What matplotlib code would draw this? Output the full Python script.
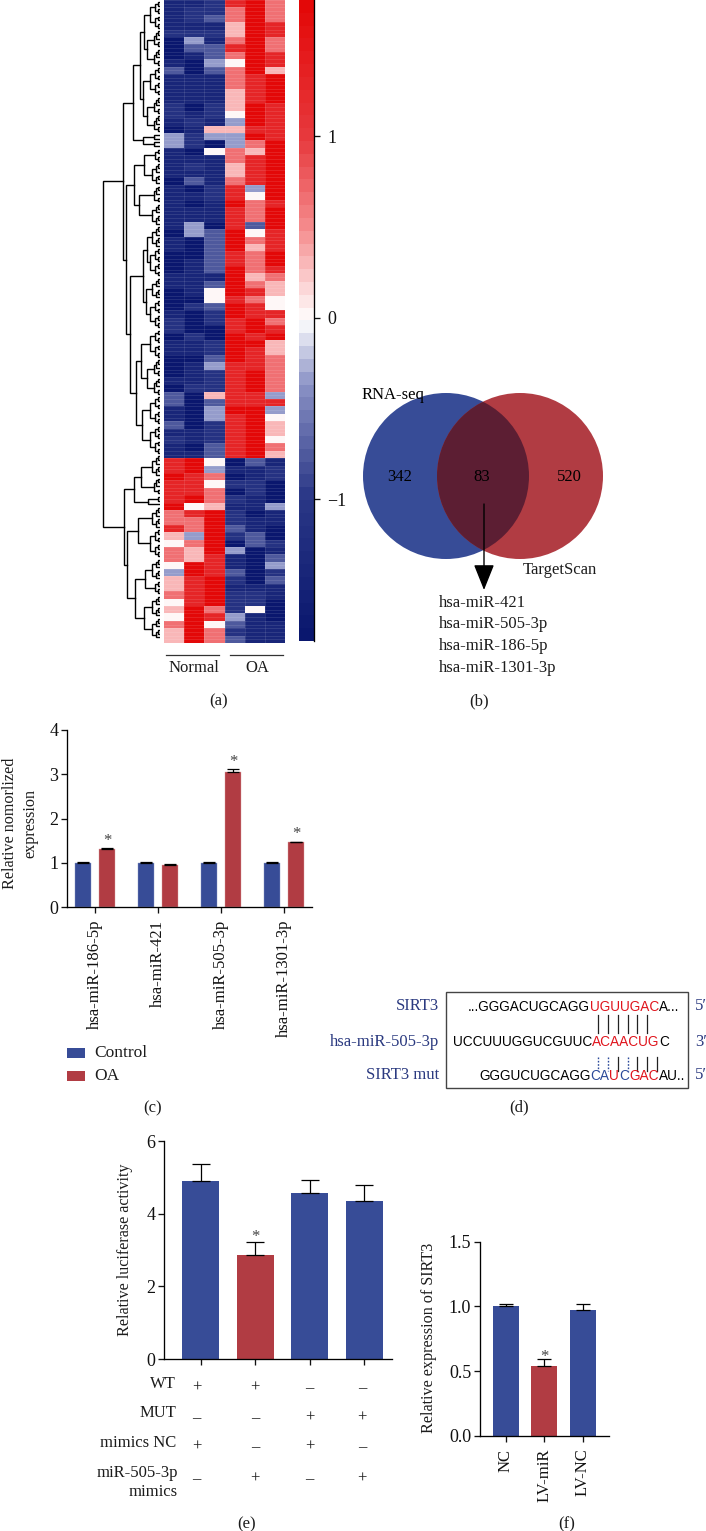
import matplotlib
matplotlib.use("Agg")
import numpy as np
import matplotlib.pyplot as plt
from matplotlib.colors import LinearSegmentedColormap, Normalize
from matplotlib.patches import Circle, Rectangle

plt.rcParams['font.family'] = ['Liberation Serif', 'DejaVu Serif']
plt.rcParams['axes.linewidth'] = 0.95
plt.rcParams['text.color'] = '#1c1c1c'
plt.rcParams['xtick.color'] = '#111111'
plt.rcParams['ytick.color'] = '#111111'

W, H = 706, 1531
BLUE, RED, OVER, NAVY = '#374c97', '#b13c43', '#5c1e33', '#2b3a80'
FS = 12
FS_Y = 11.6

# ---------- data ----------
# heat rows: one digit per sample (Normal x3, OA x3), looked up in heat_levels
heat_levels = [-1.72, -1.38, -1.12, -0.78, -0.32, 0.0, 0.28, 0.68, 1.28, 1.72]
heat_rows = [
 "112897","122797","123797","111698","222698","041797","033897","013798","104598","303796",
 "111789","111789","111689","111689","202698","212598","121498","016688","424498","420479",
 "105769","111789","121689","111689","031789","102849","112859","101978","111879","111879",
 "140839","043958","103978","103968","003879","013879","013978","111967","113976","015986",
 "005875","023985","102988","202897","200898",
 "020989","112996","112986","003987","014887","012897","112897","022897","306884","303888",
 "104994","104895","302896","112896","212895","103897","113896",
 "895031","894112","987012","885220","887020","897210","956114","789201","779211","879310",
 "649230","579032","769401","768103","598104","498302","689203","689111","789221","589220",
 "697250","598410","795311","697211","697311",
]
cb_ticks = [-1, 0, 1]
cb_limits = (-1.78, 1.75)

# dendrogram as nested (height, upper child, lower child); 1 is a single leaf
c2 = (2.5, 1, 1); c3 = (4, c2, 1); c4 = (5, c2, c2); c5 = (6.5, c3, c2)
c6 = (8, c3, c3); c8 = (10, c4, c4); c10 = (13, c5, c5)
A = (27, (20, (16, c8, c10), (17, c8, c10)), (17, (6, 1, 1), (6, 1, 1)))
B1 = (26, (16, c4, c6), (21, c5, c6))
B2 = (30, (17, (13, c6, c8), (14, c6, c8)), (24, (19, c8, c10), (18, c8, c8)))
upper = (37, A, (34.3, B1, B2))
lower = (36, (26, (19, c6, c5), (12, c2, 1)),
          (33, (22, c6, c8), (25, (15, c6, c4), (16, c6, c6))))
tree = (57, upper, lower)

venn_counts = ['342', '83', '520']
venn_targets = ['hsa-miR-421', 'hsa-miR-505-3p', 'hsa-miR-186-5p', 'hsa-miR-1301-3p']

c_labels = ['hsa-miR-186-5p', 'hsa-miR-421', 'hsa-miR-505-3p', 'hsa-miR-1301-3p']
c_control = [1.0, 1.0, 1.0, 1.0]
c_oa = [1.32, 0.95, 3.06, 1.46]
c_control_err = [0.015, 0.02, 0.015, 0.02]
c_oa_err = [0.02, 0.015, 0.06, 0.02]
c_star = [True, False, True, True]

e_values = [4.9, 2.87, 4.58, 4.34]
e_err = [0.47, 0.36, 0.34, 0.45]
e_colors = [BLUE, RED, BLUE, BLUE]
e_rows = ['WT', 'MUT', 'mimics NC', 'miR-505-3p\nmimics']
e_signs = [['+', '+', '–', '–'], ['–', '–', '+', '+'], ['+', '–', '+', '–'], ['–', '+', '–', '+']]

f_labels = ['NC', 'LV-miR', 'LV-NC']
f_values = [1.0, 0.54, 0.97]
f_err = [0.015, 0.05, 0.045]
f_colors = [BLUE, RED, BLUE]

# ---------- helpers ----------
fig = plt.figure(figsize=(W / 100, H / 100), dpi=100, facecolor='white')

def ax_px(x0, y0, x1, y1, **kw):
    return fig.add_axes([x0 / W, 1 - y1 / H, (x1 - x0) / W, (y1 - y0) / H], **kw)

page = ax_px(0, 0, W, H)
page.set_xlim(0, W); page.set_ylim(H, 0); page.axis('off'); page.set_zorder(5)
page.patch.set_alpha(0)

def clean(ax):
    ax.spines[['top', 'right']].set_visible(False)
    ax.tick_params(length=4.3, width=0.95, labelsize=13, pad=2)

def cap(txt, x, y):
    page.text(x, y, txt, ha='center', va='center', fontsize=FS)

# ---------- (a) heatmap ----------
hm_x0, hm_x1, hm_y1 = 164, 285, 643
data = np.array([[heat_levels[int(ch)] for ch in r] for r in heat_rows])
cmap = LinearSegmentedColormap.from_list(
    'bwr2', [(0, '#0a176e'), (0.22, '#2a3786'), (0.4, '#8c93c6'), (0.5, '#ffffff'),
             (0.646, '#f58c8e'), (0.787, '#e73a3e'), (1, '#e30808')], N=50)
norm = Normalize(*cb_limits)
ax = ax_px(hm_x0, 0, hm_x1, hm_y1)
mesh = ax.pcolormesh(data, cmap=cmap, norm=norm)
ax.set_ylim(len(heat_rows), 0); ax.set_xlim(0, 6); ax.axis('off')
ax.hlines(np.arange(0, len(heat_rows) + 0.5, 0.5), 0, 6, color='white', lw=0.4, alpha=0.18)
ax.vlines(np.arange(1, 6), 0, len(heat_rows), color='white', lw=0.4, alpha=0.18)

dax = ax_px(100, 0, 160, hm_y1)
n_leaves = 2 * len(heat_rows)
dax.set_xlim(60, 0); dax.set_ylim(n_leaves, 0); dax.axis('off')
counter = [0]
def draw(node):
    if node == 1:
        counter[0] += 1
        return 0, counter[0] - 0.5
    h, a, b = node
    ha, ya = draw(a)
    hb, yb = draw(b)
    dax.plot([ha, h, h, hb], [ya, ya, yb, yb], color='black', lw=1.0, solid_joinstyle='miter')
    return h, (ya + yb) / 2
draw(tree)

cax = ax_px(299, 0, 314, 641)
cb = fig.colorbar(mesh, cax=cax, ticks=cb_ticks, drawedges=False)
cb.outline.set_visible(False)
cax.spines['right'].set_visible(True)
cax.spines['right'].set_color('black')
cax.tick_params(length=4.3, width=0.95, labelsize=13, pad=5)
cax.set_yticklabels(['−1', '0', '1'])

page.plot([166, 219], [654.5, 654.5], color='#333333', lw=0.9)
page.plot([230, 283], [654.5, 654.5], color='#333333', lw=0.9)
page.text(194, 668, 'Normal', ha='center', va='center', fontsize=FS)
page.text(257, 668, 'OA', ha='center', va='center', fontsize=FS)
cap('(a)', 219, 701)

# ---------- (b) venn ----------
blue_c = Circle((446, 476), 83, fc=BLUE, ec='none')
red_c = Circle((520, 476), 83, fc=RED, ec='none')
over_c = Circle((520, 476), 83, fc=OVER, ec='none')
for p in (blue_c, red_c, over_c):
    page.add_patch(p)
over_c.set_clip_path(Circle((446, 476), 83, transform=page.transData))
for txt, x in zip(venn_counts, (400, 482, 569)):
    page.text(x, 477, txt, ha='center', va='center', fontsize=FS, color='black')
page.text(362, 395, 'RNA-seq', ha='left', va='center', fontsize=FS, color='black')
page.text(523, 570, 'TargetScan', ha='left', va='center', fontsize=FS)
page.annotate('', xy=(484, 590), xytext=(484, 504),
              arrowprops=dict(arrowstyle='-|>,head_length=1.0,head_width=0.4',
                              color='black', lw=1.0, mutation_scale=16, shrinkA=0, shrinkB=0))
for txt, y in zip(venn_targets, (603, 624, 646, 668)):
    page.text(439, y, txt, ha='left', va='center', fontsize=FS)
cap('(b)', 479, 701)

# ---------- (c) bars ----------
ax = ax_px(67, 730, 312, 907)
clean(ax)
xs = np.arange(len(c_labels))
off, bw = 0.19, 0.255
ek = dict(capsize=4, elinewidth=0.9, capthick=0.9, ecolor='black')
ax.bar(xs - off, c_control, bw, color=BLUE, edgecolor='#8b97c4', lw=0.3,
       yerr=[[0] * 4, c_control_err], error_kw=ek)
ax.bar(xs + off, c_oa, bw, color=RED, edgecolor='#dba0a3', lw=0.3,
       yerr=[[0] * 4, c_oa_err], error_kw=ek)
for x, v, e, s in zip(xs, c_oa, c_oa_err, c_star):
    if s:
        ax.text(x + off, v + e - 0.02, '*', ha='center', va='bottom', fontsize=FS, color='#444444')
ax.set_xlim(-0.444, 3.444); ax.set_ylim(0, 4)
ax.set_yticks([0, 1, 2, 3, 4])
ax.set_xticks(xs); ax.set_xticklabels(c_labels, rotation=90, fontsize=FS)
ax.tick_params(axis='x', pad=5)
page.text(20, 823, 'Relative nomorlized\nexpression', rotation=90, ha='center', va='center',
          fontsize=FS_Y, linespacing=1.35, multialignment='center')
for y, col, name in zip((1053, 1076), (BLUE, RED), ('Control', 'OA')):
    page.add_patch(Rectangle((67, y - 5), 18, 10, fc=col, ec='none'))
    page.text(94, y, name, ha='left', va='center', fontsize=FS + 0.5)
cap('(c)', 153, 1108)

# ---------- (d) alignment ----------
page.add_patch(Rectangle((446, 992), 242, 96, fc='white', ec='#444444', lw=1.0))
K, R_, B_ = 'black', '#e0141c', '#2b4a9a'
seqs = [
    (468, 1007, [('...GGGACUGCAGG', K), ('UGUUGAC', R_), ('A...', K)]),
    (453, 1042, [('UCCUUUGGUCGUUC', K), ('ACAACUG', R_), ('C', K)]),
    (479, 1076, [('GGGUCUGCAGG', K), ('CA', B_), ('U', R_), ('C', B_), ('GAC', R_), ('AU..', K)]),
]
rend = fig.canvas.get_renderer()
for x, y, segs in seqs:
    for s, col in segs:
        t = page.text(x, y, s, ha='left', va='center', fontsize=9.8, color=col,
                      family='Liberation Sans')
        x = page.transData.inverted().transform(t.get_window_extent(rend))[1, 0]
for x in (597.7, 607.7, 617.5, 627.5, 637, 646.7):
    page.plot([x, x], [1015, 1033], color='#222222', lw=0.9)
for x, dotted in zip((597.7, 607.7, 617.5, 627.5, 637, 646.7, 656.7),
                     (True, True, False, True, False, False, False)):
    if dotted:
        page.plot([x, x], [1057, 1071], color=B_, lw=1.0, ls=(0, (1.2, 1.2)))
    else:
        page.plot([x, x], [1057, 1071], color='#222222', lw=0.9)
for txt, y, end in (('SIRT3', 1006, '5′'), ('hsa-miR-505-3p', 1042, '3′'), ('SIRT3 mut', 1075, '5′')):
    page.text(439, y, txt, ha='right', va='center', fontsize=FS, color=NAVY)
    page.text(695, y, end, ha='left', va='center', fontsize=FS, color=NAVY)
cap('(d)', 519, 1107)

# ---------- (e) bars ----------
ax = ax_px(164, 1141, 392, 1359)
clean(ax)
xs = np.arange(4)
ax.bar(xs, e_values, 0.673, color=e_colors,
       yerr=[[0] * 4, e_err], error_kw=dict(capsize=6.8, elinewidth=0.9, capthick=0.9, ecolor='black'))
ax.text(1, e_values[1] + e_err[1] - 0.1, '*', ha='center', va='bottom', fontsize=FS, color='#444444')
ax.set_xlim(-0.673, 3.51); ax.set_ylim(0, 6)
ax.set_yticks([0, 2, 4, 6]); ax.set_xticks(xs); ax.set_xticklabels([])
page.text(125, 1250, 'Relative luciferase activity', rotation=90, ha='center', va='center', fontsize=FS_Y)
for signs, y in zip(e_signs, (1388, 1418, 1447, 1479)):
    for s, x in zip(signs, (196.7, 255, 309.7, 362)):
        page.text(x, y, s, ha='center', va='center', fontsize=FS)
for txt, y in zip(e_rows[:3], (1384, 1413, 1443)):
    page.text(176, y, txt, ha='right', va='center', fontsize=FS)
page.text(178, 1482.5, e_rows[3], ha='right', va='center', fontsize=FS, linespacing=1.25)
cap('(e)', 247, 1524)

# ---------- (f) bars ----------
ax = ax_px(480, 1241.7, 609, 1435.7)
clean(ax)
xs = np.arange(3)
ax.bar(xs, f_values, 0.675, color=f_colors,
       yerr=[[0] * 3, f_err], error_kw=dict(capsize=4.8, elinewidth=0.9, capthick=0.9, ecolor='black'))
ax.text(1, f_values[1] + f_err[1] - 0.04, '*', ha='center', va='bottom', fontsize=FS, color='#444444')
ax.set_xlim(-0.667, 2.68); ax.set_ylim(0, 1.5)
ax.set_yticks([0, 0.5, 1.0, 1.5]); ax.set_yticklabels(['0.0', '0.5', '1.0', '1.5'])
ax.set_xticks(xs); ax.set_xticklabels(f_labels, rotation=90, fontsize=FS)
ax.tick_params(axis='x', pad=5)
page.text(429, 1338, 'Relative expression of SIRT3', rotation=90, ha='center', va='center', fontsize=FS_Y)
cap('(f)', 567, 1524)

fig.savefig('out.png', dpi=100)
